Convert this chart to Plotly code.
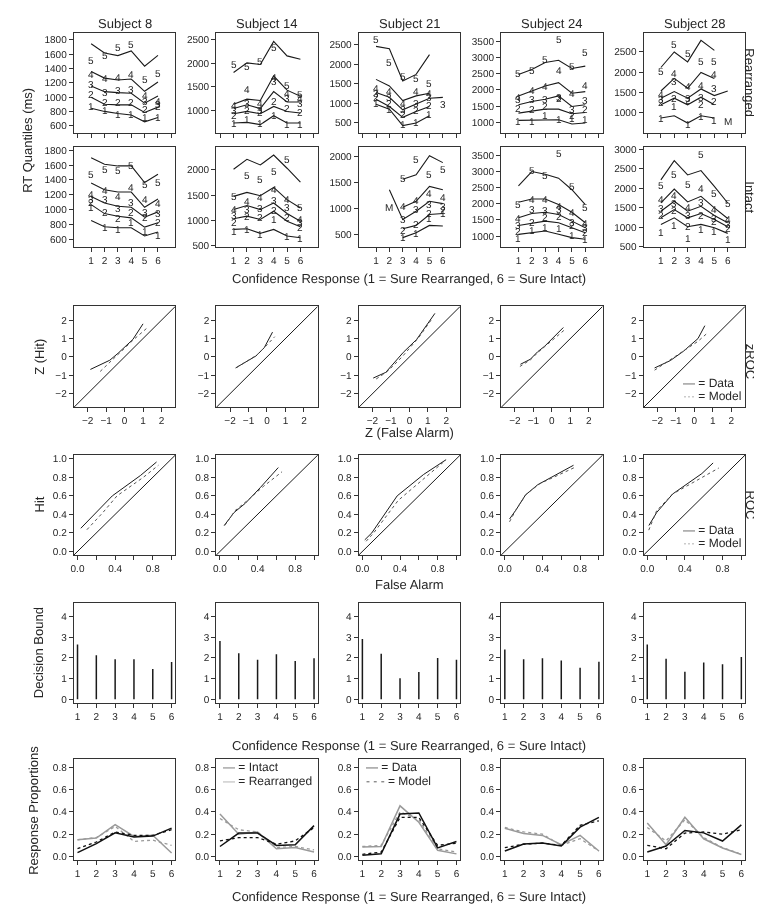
import plotly.graph_objects as go

W, H = 762, 909
SUBJECTS = ["Subject 8", "Subject 14", "Subject 21", "Subject 24", "Subject 28"]
RESP = [1, 2, 3, 4, 5, 6]
QUANT_NAMES = ["1", "2", "3", "4", "5"]
N = None

# ---------------- RT quantiles: Rearranged (lines = data, digits = model) ----------------
S8_REAR_LINES = [[845, 800, 770, 750, 655, 715], [998, 901, 892, 892, 786, 860],
                 [1155, 1076, 1062, 1053, 915, 1016], [1357, 1265, 1238, 1252, 1081, 1210],
                 [1745, 1616, 1579, 1643, 1431, 1583]]
S8_REAR_LABELS = [[870, 810, 760, 760, 720, 720], [1030, 920, 920, 920, 820, 870],
                  [1180, 1070, 1090, 1100, 940, 895], [1316, 1261, 1270, 1321, 1020, 940],
                  [1505, 1574, 1689, 1731, 1242, 1330]]
S14_REAR_LINES = [[733, 747, 698, 888, 733, 733], [930, 979, 930, 1084, 979, 944],
                  [1040, 1120, 1040, 1400, 1180, 1180], [1130, 1240, 1210, 1730, 1430, 1300],
                  [1806, 2009, 1974, 2465, 2157, 2086]]
S14_REAR_LABELS = [[720, 800, 720, 900, 700, 700], [900, 1000, 950, 1200, 1050, 950],
                   [1000, 1150, 1000, 1610, 1250, 1150], [1100, 1434, 1150, 1700, 1350, 1250],
                   [1974, 1939, 2044, 2325, 1519, 1329]]
S21_REAR_LINES = [[975, 848, 425, 493, 679, N], [1102, 916, 637, 789, 916, N],
                  [1272, 1153, 831, 975, 1128, 1150], [1611, 1441, 1068, 1187, 1255, N],
                  [2458, 2398, 1568, 1738, 2246, N]]
S21_REAR_LABELS = [[1000, 850, 450, 500, 700, N], [1150, 1000, 700, 800, 950, N],
                   [1250, 1150, 850, 1000, 1150, 958], [1382, 1300, 1000, 1297, 1255, N],
                   [2627, 2034, 1678, 1636, 1509, N]]
S24_REAR_LINES = [[1062, 1062, 1082, 1082, 950, 980], [1285, 1336, 1407, 1407, 1265, 1305],
                  [1539, 1641, 1712, 1813, 1488, 1539], [1813, 1966, 2118, 2220, 1895, 1946],
                  [2474, 2626, 2840, 2911, 2657, 2728]]
S24_REAR_LABELS = [[1031, 1031, 1204, 1082, 1133, 1082], [1437, 1387, 1488, 1742, 1204, 1407],
                   [1712, 1692, 1692, 1773, 1387, 1671], [1760, 1966, 2100, 2606, 1880, 2118],
                   [2504, 2606, 2931, 3541, 2708, 3134]]
S28_REAR_LINES = [[860, 918, 737, 918, 860, N], [1188, 1352, 1188, 1377, 1188, N],
                  [1352, 1516, 1352, 1582, 1418, 1532], [1532, 1844, 1598, 1992, 1844, N],
                  [2115, 2500, 2254, 2787, 2541, N]]
S28_REAR_LABELS = [[860, 1147, 696, 901, 800, N], [1250, 1352, 1300, 1188, 1270, N],
                   [1330, 1762, 1352, 1377, 1582, N], [1434, 1967, 1650, 1680, 1942, N],
                   [2024, 2680, 2459, 2270, 2270, N]]

# ---------------- RT quantiles: Intact ----------------
S8_INT_LINES = [[857, 773, 760, 760, 650, 703], [1070, 950, 915, 893, 769, 826],
                [1180, 1092, 1048, 1034, 902, 973], [1358, 1269, 1238, 1238, 1034, 1145],
                [1698, 1610, 1588, 1588, 1366, 1477]]
S8_INT_LABELS = [[1034, 760, 738, 827, 707, 663], [1092, 968, 880, 968, 902, 835],
                 [1136, 1136, 1012, 1092, 968, 946], [1203, 1256, 1180, 1300, 1145, 1079],
                 [1468, 1543, 1521, 1596, 1344, 1366]]
S14_INT_LINES = [[826, 839, 748, 826, 696, 663], [1035, 1087, 1022, 1185, 989, 879],
                 [1217, 1296, 1217, 1348, 1139, 989], [1478, 1557, 1491, 1654, 1413, 1250],
                 [2013, 2209, 2098, 2293, 2033, 1759]]
S14_INT_LABELS = [[794, 826, 729, 1022, 696, 644], [957, 1074, 1068, 1198, 1054, 859],
                  [1100, 1217, 1231, 1394, 1250, 957], [1217, 1381, 1446, 1622, 1413, 1022],
                  [1478, 1883, 1817, 1967, 2209, 1250]]
S21_INT_LINES = [[N, N, 430, 526, 667, 654], [N, N, 603, 667, 878, 897],
                 [N, 1359, 782, 942, 1135, 1090], [N, N, 1019, 1135, 1423, 1359],
                 [N, N, 1564, 1647, 2019, 1885]]
S21_INT_LABELS = [[N, N, 430, 519, 795, 897], [N, N, 577, 686, 900, 950],
                  [N, N, 782, 974, 1071, 1038], [N, N, 1038, 1147, 1295, 1199],
                  [N, N, 1583, 1949, 1647, 1756]]
S24_INT_LINES = [[1052, 1103, 1154, 1052, 950, 899], [1327, 1389, 1460, 1409, 1256, 1103],
                 [1562, 1695, 1735, 1664, 1460, 1256], [2041, 2143, 2143, 1970, 1735, 1409],
                 [2551, 2990, 2908, 2786, 2429, 1970]]
S24_INT_LABELS = [[919, 1185, 1256, 1225, 1001, 899], [1154, 1429, 1582, 1593, 1327, 1103],
                  [1327, 1817, 1786, 1817, 1429, 1256], [1531, 2143, 2123, 1919, 1715, 1378],
                  [1970, 3010, 2857, 3551, 2531, 1868]]
S28_INT_LINES = [[1071, 1241, 1011, 1071, 986, 841], [1241, 1453, 1241, 1351, 1198, 1011],
                 [1410, 1666, 1410, 1538, 1300, 1113], [1623, 1980, 1649, 1793, 1496, 1224],
                 [2218, 2711, 2345, 2456, 2048, 1623]]
S28_INT_LABELS = [[858, 1045, 705, 943, 900, 688], [1300, 1428, 1011, 1300, 1156, 960],
                  [1470, 1598, 1300, 1640, 1224, 1071], [1708, 1810, 1496, 2006, 1453, 1198],
                  [2065, 2345, 2090, 2881, 1878, 1598]]

# "M" markers (response, RT)
S21_INT_M = ([2], [1006])
S28_REAR_M = ([6], [778])

REAR_LINES = [S8_REAR_LINES, S14_REAR_LINES, S21_REAR_LINES, S24_REAR_LINES, S28_REAR_LINES]
REAR_LABELS = [S8_REAR_LABELS, S14_REAR_LABELS, S21_REAR_LABELS, S24_REAR_LABELS, S28_REAR_LABELS]
INT_LINES = [S8_INT_LINES, S14_INT_LINES, S21_INT_LINES, S24_INT_LINES, S28_INT_LINES]
INT_LABELS = [S8_INT_LABELS, S14_INT_LABELS, S21_INT_LABELS, S24_INT_LABELS, S28_INT_LABELS]

REAR_RANGES = [[500, 1897], [523, 2647], [238, 2805], [675, 3754], [491, 2976]]
REAR_TICKS = [[600, 800, 1000, 1200, 1400, 1600, 1800], [1000, 1500, 2000, 2500],
              [500, 1000, 1500, 2000, 2500], [1000, 1500, 2000, 2500, 3000, 3500],
              [1000, 1500, 2000, 2500]]
INT_RANGES = [[504, 1844], [481, 2456], [250, 2192], [664, 3755], [493, 3068]]
INT_TICKS = [[600, 800, 1000, 1200, 1400, 1600, 1800], [500, 1000, 1500, 2000],
             [500, 1000, 1500, 2000], [1000, 1500, 2000, 2500, 3000, 3500],
             [500, 1000, 1500, 2000, 2500, 3000]]

# ---------------- zROC ----------------
ZROC_DATA_X = [[-1.85, -0.8, -0.35, 0.45, 1.0], [-1.7, -1.05, -0.6, -0.15, 0.3],
               [-1.96, -1.28, -0.33, 0.39, 1.38], [-1.7, -1.17, -0.77, -0.39, 0.62],
               [-2.15, -1.3, -0.6, 0.2, 0.57]]
ZROC_DATA_Y = [[-0.68, -0.18, 0.2, 0.95, 1.8], [-0.6, -0.2, 0.05, 0.5, 1.35],
               [-1.15, -0.84, 0.25, 0.95, 2.37], [-0.4, -0.13, 0.28, 0.58, 1.6],
               [-0.6, -0.2, 0.3, 1.0, 1.7]]
ZROC_MODEL_X = [[-1.32, -0.6, -0.2, 0.5, 1.18], [-1.65, -1.0, -0.55, -0.1, 0.42],
                [-1.8, -1.2, -0.4, 0.5, 1.22], [-1.73, -1.15, -0.75, -0.35, 0.66],
                [-2.15, -1.3, -0.6, 0.2, 0.71]]
ZROC_MODEL_Y = [[-0.79, -0.1, 0.3, 0.95, 1.54], [-0.58, -0.15, 0.1, 0.55, 1.1],
                [-1.2, -0.8, 0.0, 1.05, 2.07], [-0.52, -0.15, 0.25, 0.6, 1.45],
                [-0.72, -0.15, 0.3, 0.85, 1.3]]
Z_DIAG = [-3, 3]

# ---------------- ROC ----------------
ROC_DATA_FA = [[0.035, 0.21, 0.37, 0.67, 0.84], [0.045, 0.15, 0.27, 0.43, 0.62],
               [0.025, 0.1, 0.37, 0.65, 0.89], [0.05, 0.12, 0.22, 0.35, 0.73],
               [0.017, 0.1, 0.27, 0.58, 0.7]]
ROC_DATA_HIT = [[0.25, 0.43, 0.6, 0.82, 0.965], [0.28, 0.42, 0.52, 0.69, 0.905],
                [0.125, 0.2, 0.6, 0.83, 0.99], [0.35, 0.45, 0.61, 0.72, 0.93],
                [0.28, 0.42, 0.62, 0.84, 0.955]]
ROC_MODEL_FA = [[0.1, 0.27, 0.42, 0.7, 0.86], [0.05, 0.16, 0.28, 0.46, 0.66],
                [0.04, 0.12, 0.38, 0.67, 0.88], [0.05, 0.13, 0.23, 0.37, 0.75],
                [0.016, 0.1, 0.27, 0.58, 0.76]]
ROC_MODEL_HIT = [[0.235, 0.42, 0.6, 0.8, 0.93], [0.28, 0.44, 0.54, 0.7, 0.86],
                 [0.11, 0.2, 0.55, 0.8, 0.98], [0.32, 0.47, 0.62, 0.73, 0.91],
                 [0.23, 0.44, 0.62, 0.8, 0.9]]
P_DIAG = [-0.1, 1.1]

# ---------------- Decision bounds ----------------
BOUNDS = [[2.65, 2.13, 1.94, 1.94, 1.46, 1.80], [2.82, 2.23, 1.91, 2.18, 1.85, 1.99],
          [2.92, 2.20, 1.01, 1.32, 2.00, 1.91], [2.41, 1.94, 1.99, 1.88, 1.52, 1.81],
          [2.65, 1.96, 1.33, 1.78, 1.70, 2.05]]

# ---------------- Response proportions ----------------
INT_DATA = [[0.035, 0.115, 0.212, 0.174, 0.183, 0.254], [0.09, 0.21, 0.21, 0.10, 0.106, 0.277],
            [0.012, 0.024, 0.38, 0.39, 0.077, 0.135], [0.05, 0.112, 0.121, 0.094, 0.263, 0.351],
            [0.041, 0.094, 0.233, 0.212, 0.139, 0.283]]
INT_MODEL = [[0.07, 0.13, 0.22, 0.19, 0.19, 0.24], [0.14, 0.17, 0.17, 0.11, 0.14, 0.26],
             [0.02, 0.04, 0.35, 0.35, 0.10, 0.12], [0.08, 0.11, 0.12, 0.10, 0.28, 0.32],
             [0.10, 0.07, 0.21, 0.22, 0.20, 0.24]]
REAR_DATA = [[0.15, 0.165, 0.286, 0.18, 0.19, 0.032], [0.38, 0.20, 0.22, 0.07, 0.08, 0.04],
             [0.085, 0.09, 0.454, 0.307, 0.056, 0.024], [0.254, 0.206, 0.189, 0.106, 0.189, 0.05],
             [0.30, 0.106, 0.351, 0.159, 0.077, 0.018]]
REAR_MODEL = [[0.15, 0.17, 0.27, 0.136, 0.147, 0.10], [0.34, 0.24, 0.22, 0.08, 0.09, 0.06],
              [0.09, 0.10, 0.40, 0.33, 0.07, 0.04], [0.26, 0.22, 0.20, 0.10, 0.16, 0.05],
              [0.26, 0.14, 0.33, 0.17, 0.08, 0.02]]

# ================= layout geometry (pixels) =================
COL_LEFT = [63, 206, 349, 492, 635]
COL_W = 102
ROWS = [(22, 123), (137, 238), (298, 400), (448, 549), (597, 698), (755, 857)]
FONT = "Liberation Sans, Arial, sans-serif"
TXT = "#262626"


def px_x(p):
    return p / W


def px_y(p):
    return 1 - p / H


fig = go.Figure()
layout = dict(width=W, height=H, margin=dict(l=0, r=0, t=0, b=0),
              paper_bgcolor="white", plot_bgcolor="white", showlegend=False,
              colorway=["#222222"], font=dict(family=FONT, color=TXT))


def ax_names(r, c):
    idx = r * 5 + c + 1
    s = "" if idx == 1 else str(idx)
    return "x" + s, "y" + s, "xaxis" + s, "yaxis" + s


def base_axis(**kw):
    d = dict(showline=True, mirror=True, linecolor="#333", linewidth=1, ticks="outside",
             ticklen=4, tickwidth=1, tickcolor="#333", showgrid=False, zeroline=False,
             tickfont=dict(size=10, family=FONT, color=TXT), fixedrange=True)
    d.update(kw)
    return d


DIGIT_FONT = dict(size=10, family=FONT, color="#222222")
ann = []


def add_digits(xs, ys, label, xa, ya):
    # digit labels placed in data coordinates of the panel's axes
    for xv, yv in zip(xs, ys):
        if yv is None:
            continue
        ann.append(dict(text=label, x=xv, y=yv, xref=xa, yref=ya, showarrow=False,
                        xanchor="center", yanchor="middle", font=DIGIT_FONT,
                        borderpad=0))


for r in range(6):
    for c in range(5):
        xa, ya, xk, yk = ax_names(r, c)
        top, bot = ROWS[r]
        xdom = [px_x(COL_LEFT[c]), px_x(COL_LEFT[c] + COL_W)]
        ydom = [px_y(bot), px_y(top)]
        if r in (0, 1):
            if r == 0:
                xax = base_axis(range=[-0.3, 7.3], tickvals=list(range(8)), showticklabels=False)
                yax = base_axis(range=REAR_RANGES[c], tickvals=REAR_TICKS[c])
            else:
                xax = base_axis(range=[-0.3, 7.3], tickvals=RESP)
                yax = base_axis(range=INT_RANGES[c], tickvals=INT_TICKS[c])
        elif r == 2:
            xax = base_axis(range=[-2.75, 2.75], tickvals=[-2, -1, 0, 1, 2])
            yax = base_axis(range=[-2.75, 2.75], tickvals=[-2, -1, 0, 1, 2])
        elif r == 3:
            xax = base_axis(range=[-0.04, 1.04], tickvals=[0, 0.2, 0.4, 0.6, 0.8, 1.0],
                            ticktext=["0.0", "", "0.4", "", "0.8", ""])
            yax = base_axis(range=[-0.04, 1.04], tickvals=[0, 0.2, 0.4, 0.6, 0.8, 1.0],
                            ticktext=["0.0", "0.2", "0.4", "0.6", "0.8", "1.0"])
        elif r == 4:
            xax = base_axis(range=[0.8, 6.2], tickvals=RESP)
            yax = base_axis(range=[-0.18, 4.68], tickvals=[0, 1, 2, 3, 4])
        else:
            xax = base_axis(range=[0.8, 6.2], tickvals=RESP)
            yax = base_axis(range=[-0.035, 0.87], tickvals=[0, 0.2, 0.4, 0.6, 0.8],
                            ticktext=["0.0", "0.2", "0.4", "0.6", "0.8"])
        xax.update(domain=xdom, anchor=ya)
        yax.update(domain=ydom, anchor=xa)
        layout[xk] = xax
        layout[yk] = yax

        if r in (0, 1):
            lines = REAR_LINES[c] if r == 0 else INT_LINES[c]
            labels = REAR_LABELS[c] if r == 0 else INT_LABELS[c]
            for q in range(5):
                fig.add_trace(go.Scatter(x=RESP, y=lines[q], mode="lines", xaxis=xa, yaxis=ya,
                                         line=dict(color="#1a1a1a", width=1.1),
                                         connectgaps=False, hoverinfo="skip"))
            for q in range(5):
                add_digits(RESP, labels[q], QUANT_NAMES[q], xa, ya)
        elif r == 2:
            fig.add_trace(go.Scatter(x=Z_DIAG, y=Z_DIAG, mode="lines", xaxis=xa, yaxis=ya,
                                     line=dict(color="#1a1a1a", width=1)))
            fig.add_trace(go.Scatter(x=ZROC_DATA_X[c], y=ZROC_DATA_Y[c], mode="lines", xaxis=xa,
                                     yaxis=ya, line=dict(color="#1a1a1a", width=1)))
            fig.add_trace(go.Scatter(x=ZROC_MODEL_X[c], y=ZROC_MODEL_Y[c], mode="lines", xaxis=xa,
                                     yaxis=ya, line=dict(color="#555", width=1, dash="dot")))
        elif r == 3:
            fig.add_trace(go.Scatter(x=P_DIAG, y=P_DIAG, mode="lines", xaxis=xa, yaxis=ya,
                                     line=dict(color="#1a1a1a", width=1)))
            fig.add_trace(go.Scatter(x=ROC_DATA_FA[c], y=ROC_DATA_HIT[c], mode="lines", xaxis=xa,
                                     yaxis=ya, line=dict(color="#1a1a1a", width=1)))
            fig.add_trace(go.Scatter(x=ROC_MODEL_FA[c], y=ROC_MODEL_HIT[c], mode="lines", xaxis=xa,
                                     yaxis=ya, line=dict(color="#555", width=1, dash="dot")))
        elif r == 4:
            # vertical spikes from 0 to each bound value (built from the data arrays)
            sx, sy = [], []
            for resp, b in zip(RESP, BOUNDS[c]):
                sx += [resp, resp, None]
                sy += [0, b, None]
            fig.add_trace(go.Scatter(x=sx, y=sy, mode="lines", xaxis=xa, yaxis=ya,
                                     line=dict(color="#1a1a1a", width=1.5)))
        else:
            fig.add_trace(go.Scatter(x=RESP, y=REAR_DATA[c], mode="lines", xaxis=xa, yaxis=ya,
                                     line=dict(color="#9a9a9a", width=1.5)))
            fig.add_trace(go.Scatter(x=RESP, y=REAR_MODEL[c], mode="lines", xaxis=xa, yaxis=ya,
                                     line=dict(color="#9a9a9a", width=1.3, dash="3px,3px")))
            fig.add_trace(go.Scatter(x=RESP, y=INT_DATA[c], mode="lines", xaxis=xa, yaxis=ya,
                                     line=dict(color="#111", width=1.5)))
            fig.add_trace(go.Scatter(x=RESP, y=INT_MODEL[c], mode="lines", xaxis=xa, yaxis=ya,
                                     line=dict(color="#111", width=1.3, dash="3px,3px")))

# "M" markers
for (mx, my), (r, c) in [(S21_INT_M, (1, 2)), (S28_REAR_M, (0, 4))]:
    xa, ya, _, _ = ax_names(r, c)
    add_digits(mx, my, "M", xa, ya)

fig.update_layout(**layout)


def add_text(text, xp, yp, size=13, angle=0, xanchor="center", yanchor="middle"):
    ann.append(dict(text=text, x=px_x(xp), y=px_y(yp), xref="paper", yref="paper",
                    showarrow=False, textangle=angle, xanchor=xanchor, yanchor=yanchor,
                    font=dict(size=size, family=FONT, color=TXT)))


for c, s in enumerate(SUBJECTS):
    add_text(s, COL_LEFT[c] + COL_W / 2, 13)

XT = "Confidence Response (1 = Sure Rearranged, 6 = Sure Intact)"
add_text(XT, 400, 270)
add_text("Z (False Alarm)", 400, 425)
add_text("False Alarm", 400, 579)
add_text(XT, 400, 741)
add_text(XT, 400, 893)

add_text("RT Quantiles (ms)", 17, 130, angle=-90)
add_text("Z (Hit)", 29, 349, angle=-90)
add_text("Hit", 29, 498, angle=-90)
add_text("Decision Bound", 27, 647, angle=-90)
add_text("Response Proportions", 23, 806, angle=-90)

add_text("Rearranged", 742, 72, angle=90)
add_text("Intact", 742, 188, angle=90)
add_text("zROC", 742, 353, angle=90)
add_text("ROC", 742, 498, angle=90)


def legend_line(mark, color, label, xp, yp):
    ann.append(dict(text=f"<span style='color:{color}'>{mark}</span> = {label}",
                    x=px_x(xp), y=px_y(yp), xref="paper", yref="paper", showarrow=False,
                    xanchor="left", yanchor="middle",
                    font=dict(size=12, family=FONT, color=TXT)))


legend_line("—", "#555", "Data", 673, 375)
legend_line("···", "#aaa", "Model", 673, 388)
legend_line("—", "#555", "Data", 673, 524)
legend_line("···", "#aaa", "Model", 673, 537)
legend_line("—", "#666", "Intact", 211, 763)
legend_line("—", "#aaa", "Rearranged", 211, 777)
legend_line("—", "#555", "Data", 354, 763)
legend_line("- - -", "#555", "Model", 354, 777)

fig.update_layout(annotations=ann)

# render text with grayscale antialiasing (avoids coloured fringes on tiny digits)
POST = ("document.querySelectorAll('.main-svg').forEach(function(s){"
        "s.style.willChange='transform';s.style.textRendering='geometricPrecision';});")
fig.write_html("out.html", post_script=POST)
